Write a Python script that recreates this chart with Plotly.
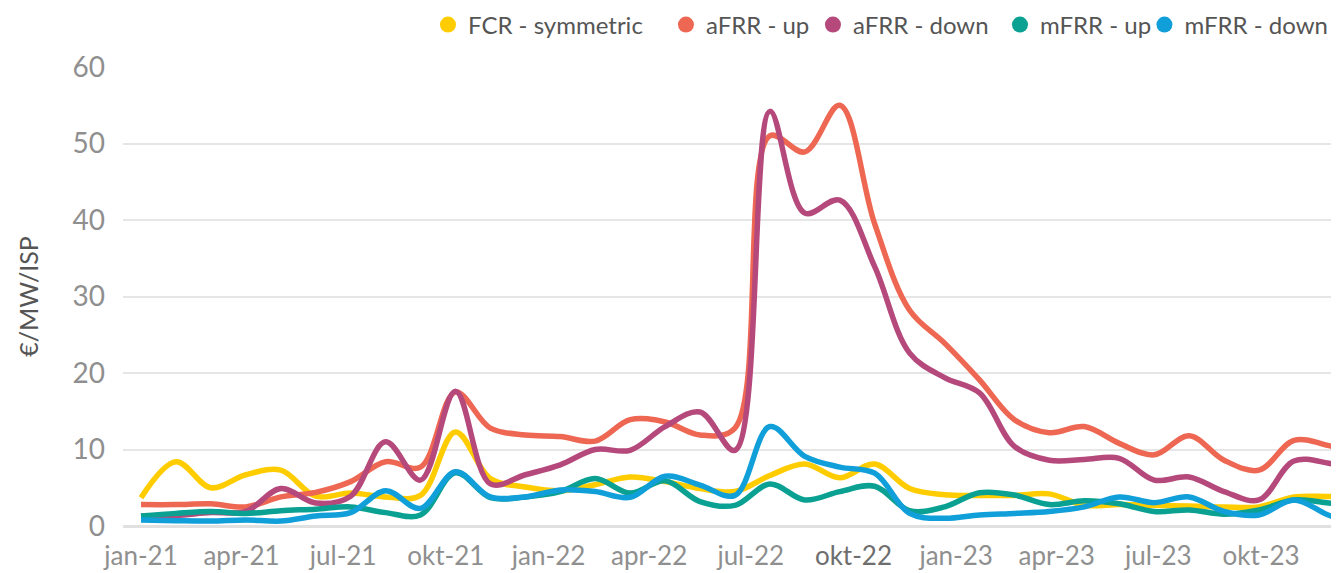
import pandas as pd
import plotly.graph_objects as go

# ---- data ----
months = [f"{m}-{y}" for y in ("21", "22", "23")
          for m in ("jan", "feb", "mrt", "apr", "mei", "jun",
                    "jul", "aug", "sep", "okt", "nov", "dec")]

fcr_symmetric = [3.7, 8.4, 5.0, 6.7, 7.3, 3.9, 4.3, 3.8, 4.0, 12.3, 6.2, 5.1,
                 4.6, 5.4, 6.4, 5.8, 4.9, 4.5, 6.6, 8.1, 6.3, 8.1, 4.9, 4.1,
                 4.0, 4.0, 4.2, 2.7, 2.8, 2.7, 2.6, 2.5, 2.5, 3.8, 3.85, 3.8]
afrr_up = [2.8, 2.8, 2.9, 2.5, 3.8, 4.4, 5.8, 8.4, 7.7, 17.5, 12.8, 11.9,
           11.7, 11.1, 13.9, 13.6, 11.9, 12.8, 51.0, 48.9, 55.0, 39.5, 28.2, 23.9,
           19.1, 13.9, 12.2, 13.0, 10.8, 9.3, 11.8, 8.6, 7.3, 11.2, 10.5, 9.0]
afrr_down = [1.3, 1.4, 1.75, 1.9, 4.9, 3.0, 3.9, 11.0, 6.0, 17.6, 5.5, 6.7,
             8.0, 10.0, 9.9, 13.0, 14.9, 9.9, 54.2, 40.9, 42.6, 33.9, 22.6, 19.4,
             17.4, 10.4, 8.6, 8.7, 8.85, 6.0, 6.4, 4.5, 3.4, 8.5, 8.2, 7.0]
mfrr_up = [1.3, 1.65, 1.9, 1.65, 2.0, 2.2, 2.5, 1.75, 1.45, 6.95, 3.7, 3.8,
           4.5, 6.2, 4.3, 5.9, 3.2, 2.7, 5.5, 3.4, 4.5, 5.2, 2.0, 2.5,
           4.35, 4.05, 2.8, 3.3, 2.9, 1.9, 2.1, 1.55, 2.1, 3.4, 3.0, 2.6]
mfrr_down = [0.8, 0.7, 0.65, 0.8, 0.65, 1.3, 1.75, 4.6, 2.3, 7.1, 3.8, 3.8,
             4.7, 4.5, 3.75, 6.5, 5.35, 4.0, 13.0, 9.1, 7.7, 6.9, 1.65, 1.0,
             1.45, 1.65, 1.9, 2.5, 3.8, 3.05, 3.8, 1.9, 1.45, 3.4, 1.4, 0.0]

tick_labels = ["jan-21", "apr-21", "jul-21", "okt-21", "jan-22", "apr-22",
               "jul-22", "<span style='color:#6e6e6e'>okt-22</span>", "jan-23",
               "apr-23", "jul-23", "okt-23"]

series = [
    ("FCR - symmetric", fcr_symmetric, "#FFCC00"),
    ("aFRR - up", afrr_up, "#EE6752"),
    ("aFRR - down", afrr_down, "#B5497B"),
    ("mFRR - up", mfrr_up, "#0AA193"),
    ("mFRR - down", mfrr_down, "#119FD9"),
]
# legend entry anchor positions (paper x)
legend_x = [0.2508, 0.4465, 0.5674, 0.7212, 0.8400]

# samples are spread evenly over the three-year window
x_dates = pd.date_range("2021-01-01", "2024-01-01", periods=len(months))
tick_vals = pd.date_range("2021-01-01", periods=len(tick_labels), freq="3MS")

FONT = "Lato"
fig = go.Figure()
for name, vals, col in series:
    fig.add_trace(go.Scatter(
        x=x_dates, y=vals, name=name, mode="lines",
        line=dict(color=col, width=5.5, shape="spline", smoothing=1.0),
        text=months, hovertemplate="%{text}: %{y}<extra>" + name + "</extra>",
        showlegend=False))

legend_layout = {}
for k, ((name, vals, col), lx) in enumerate(zip(series, legend_x)):
    lname = "legend" if k == 0 else f"legend{k + 1}"
    fig.add_trace(go.Scatter(
        x=[None], y=[None], name=name, mode="markers",
        marker=dict(color=col, size=16, symbol="circle"),
        showlegend=True, hoverinfo="skip", legend=lname))
    legend_layout[lname] = dict(
        orientation="h", x=lx, xanchor="left", y=1.0915, yanchor="middle",
        font=dict(size=24, color="#555555"), itemclick=False,
        bgcolor="rgba(0,0,0,0)")

fig.update_layout(
    width=1331, height=565,
    margin=dict(l=115, r=0, t=59, b=47, autoexpand=False),
    paper_bgcolor="white", plot_bgcolor="white",
    font=dict(family=FONT, color="#555555"),
    showlegend=True,
    xaxis=dict(type="date", range=["2020-12-15 21:00", "2023-12-09 19:00"],
               tickmode="array", tickvals=tick_vals, ticktext=tick_labels,
               tickfont=dict(size=26, color="#8f8f8f"), showgrid=False,
               showline=False, zeroline=False, ticks="", ticklabelstandoff=12),
    yaxis=dict(range=[0, 60], dtick=10, tickfont=dict(size=28, color="#8f8f8f"),
               gridcolor="#e6e6e6", gridwidth=2, zeroline=True,
               zerolinecolor="#e0e0e0", zerolinewidth=3, showline=False,
               ticks="", ticklabelstandoff=17,
               title=dict(text="€/MW/ISP", font=dict(size=25, color="#555555"),
                          standoff=26)),
    **legend_layout,
)

fig.write_html("out.html")
